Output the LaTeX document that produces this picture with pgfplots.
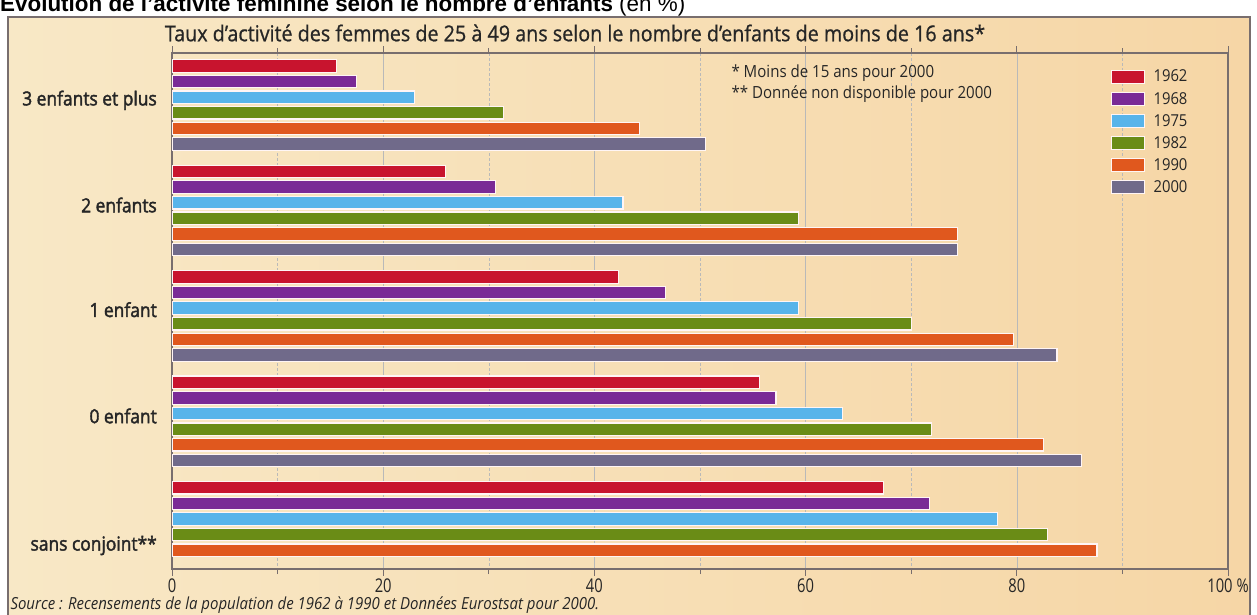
\documentclass[border=0pt]{standalone}
\usepackage{fontspec}
\setmainfont{Open Sans}[FakeStretch=0.9]
\newfontfamily\labfont{Open Sans}[FakeStretch=0.9, FakeBold=2]
\newfontfamily\titfont{Open Sans}[FakeStretch=0.9, FakeBold=0.8]
\newfontfamily\tickfont{Open Sans}[FakeStretch=0.78]
\newfontfamily\headfont{Liberation Sans}
\usepackage{pgfplots}
\pgfplotsset{compat=1.18}
\definecolor{c62}{RGB}{200,20,46}
\definecolor{c68}{RGB}{122,42,150}
\definecolor{c75}{RGB}{88,180,234}
\definecolor{c82}{RGB}{106,140,22}
\definecolor{c90}{RGB}{224,88,30}
\definecolor{c00}{RGB}{112,106,138}
\definecolor{bgl}{RGB}{248,232,198}
\definecolor{bgr}{RGB}{246,214,166}
\definecolor{framec}{RGB}{120,110,110}
\begin{document}
\begin{tikzpicture}
\fill[white] (0bp,0bp) rectangle (1257bp,615bp);
\shade[left color=bgl, right color=bgr] (8bp,-2bp) rectangle (1250bp,598bp);
\draw[line width=1.5bp, framec] (8bp,-5bp) -- (8bp,598bp) -- (1250bp,598bp) -- (1250bp,-5bp);
\node[anchor=base west, inner sep=0pt, font=\headfont\bfseries\fontsize{22.5}{26}\selectfont] at (0bp,603bp) {Évolution de l’activité féminine selon le nombre d’enfants \mdseries(en \%)};
\node[font=\titfont\fontsize{22}{26}\selectfont, text=black!85] at (575bp,582bp) {Taux d’activité des femmes de 25 à 49 ans selon le nombre d’enfants de moins de 16 ans*};
\begin{axis}[
  at={(172bp,46bp)}, anchor=south west, scale only axis,
  width=1056bp, height=516bp,
  xmin=0, xmax=100, ymin=-0.83, ymax=32.2, y dir=reverse,
  axis line style={draw=framec, line width=1.2bp},
  xtick={0,20,40,60,80,100},
  xticklabels={0,20,40,60,80,100 \%},
  minor xtick={10,30,50,70,90},
  xmajorgrids, xminorgrids,
  major grid style={draw=gray!55, line width=0.5bp},
  minor grid style={draw=gray!55, line width=0.5bp, dash pattern=on 3bp off 2bp},
  tick align=outside,
  major tick length=7bp, minor tick length=5bp,
  xtick style={draw=framec, line width=0.8bp},
  ytick={2.2,8.9,15.6,22.4,30.7},
  yticklabels={3 enfants et plus,2 enfants,1 enfant,0 enfant,sans conjoint**},
  ytick style={draw=none},
  yticklabel style={font=\labfont\fontsize{19.4}{22}\selectfont, text=black!85, anchor=east, inner sep=0pt, xshift=-8bp},
  xticklabel style={font=\tickfont\fontsize{19}{22}\selectfont, text=black!85, yshift=-2bp, inner sep=1bp},
  xbar, bar shift=0pt, bar width=12.5bp,
  every axis plot/.append style={draw=white!85!pink, line width=1.2bp},
  legend style={at={(0.886,0.975)}, anchor=north west, draw=none, fill=none,
    font=\fontsize{16.5}{20}\selectfont, text=black!85, row sep=4.7bp,
    /tikz/every odd column/.append style={column sep=7bp}},
  legend cell align=left,
  legend image code/.code={\draw[#1, line width=0.8bp] (0bp,-6.5bp) rectangle (33bp,6.5bp);},
]
\addplot[fill=c62] coordinates {(15.6,0) (25.9,6.75) (42.3,13.5) (55.6,20.25) (67.4,27)};
\addplot[fill=c68] coordinates {(17.5,1) (30.6,7.75) (46.7,14.5) (57.2,21.25) (71.7,28)};
\addplot[fill=c75] coordinates {(23.0,2) (42.7,8.75) (59.3,15.5) (63.5,22.25) (78.2,29)};
\addplot[fill=c82] coordinates {(31.4,3) (59.3,9.75) (70.0,16.5) (71.9,23.25) (82.9,30)};
\addplot[fill=c90] coordinates {(44.3,4) (74.4,10.75) (79.7,17.5) (82.5,24.25) (87.6,31)};
\addplot[fill=c00] coordinates {(50.5,5) (74.4,11.75) (83.8,18.5) (86.1,25.25)};
\legend{1962,1968,1975,1982,1990,2000}
\end{axis}
\node[anchor=west, font=\fontsize{16.8}{19}\selectfont, text=black!85] at (728bp,542bp) {* Moins de 15 ans pour 2000};
\node[anchor=west, font=\fontsize{16.8}{19}\selectfont, text=black!85] at (728bp,521bp) {** Donnée non disponible pour 2000};
\node[anchor=west, font=\itshape\fontsize{16.7}{19}\selectfont, text=black!85] at (7bp,9.5bp) {Source : Recensements de la population de 1962 à 1990 et Données Eurostsat pour 2000.};
\pgfresetboundingbox
\path[use as bounding box] (0bp,0bp) rectangle (1257bp,615bp);
\end{tikzpicture}
\end{document}
